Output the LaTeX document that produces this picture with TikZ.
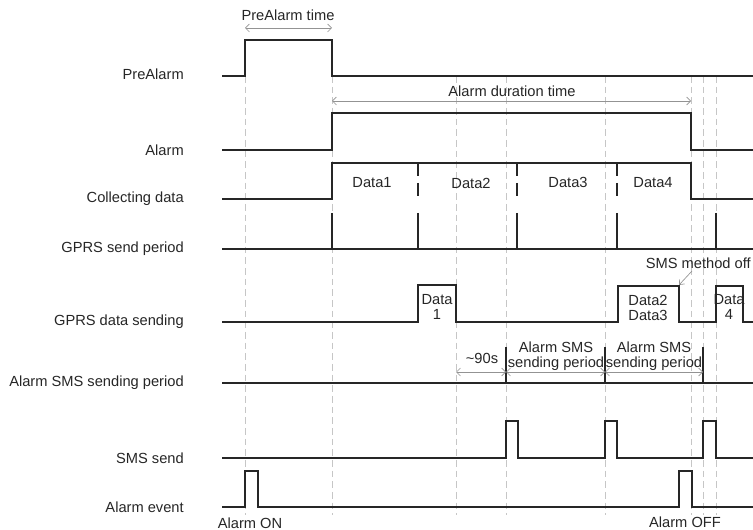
\documentclass[tikz,border=0pt]{standalone}
\usepackage{fontspec}
\setmainfont{Liberation Sans}
\usetikzlibrary{arrows.meta}
\begin{document}
\begin{tikzpicture}[x=0.75pt,y=-0.75pt,
  sig/.style={line width=1.3pt,black!85},
  sep/.style={line width=1.3pt,black!85,dash pattern=on 10pt off 5pt},
  grid/.style={gray!45,line width=0.5pt,dash pattern=on 5pt off 3pt},
  dim/.style={gray!85,line width=0.5pt,{Straight Barb[length=3pt,width=6pt]}-{Straight Barb[length=3pt,width=6pt]}},
  lbl/.style={anchor=east,inner sep=0pt,font=\fontsize{11}{11.5}\selectfont,text=black!85},
  txt/.style={inner sep=0pt,align=center,font=\fontsize{11}{11.5}\selectfont,text=black!85}]
\useasboundingbox (0,0) rectangle (753,530);

\draw[grid] (245,76) -- (245,515) (332,76) -- (332,515) (456,76) -- (456,515)
  (506,76) -- (506,515) (605,76) -- (605,515) (691,76) -- (691,515)
  (703,76) -- (703,515) (716,76) -- (716,515);

\node[lbl] (lpre) at (184,74) {PreAlarm};
\node[lbl] (lalarm) at (184,150) {Alarm};
\node[lbl] (lcoll) at (184,199) {Collecting data};
\node[lbl] (lgprsp) at (184,249) {GPRS send period};
\node[lbl] (lgprsd) at (184,322) {GPRS data sending};
\node[lbl] (lsmsp) at (184,383) {Alarm SMS sending period};
\node[lbl] (lsms) at (184,458) {SMS send};
\node[lbl] (levent) at (184,507) {Alarm event};

\draw[sig] (222,76) -- (245,76) -- (245,40) -- (332,40) -- (332,76) -- (753,76);
\draw[sig] (222,150) -- (332,150) -- (332,113) -- (691,113) -- (691,150) -- (753,150);
\draw[sig] (222,199) -- (332,199) -- (332,163) -- (691,163) -- (691,199) -- (753,199);
\draw[sep] (418,163) -- (418,199) (517,163) -- (517,199) (617,163) -- (617,199);
\draw[sig] (222,249) -- (753,249);
\draw[sig] (332,213) -- (332,249) (418,213) -- (418,249) (517,213) -- (517,249)
  (617,213) -- (617,249) (716,213) -- (716,249);
\draw[sig] (222,322) -- (418,322) -- (418,285) -- (456,285) -- (456,322) -- (618,322)
  -- (618,286) -- (679,286) -- (679,322) -- (716,322) -- (716,286) -- (743,286)
  -- (743,322) -- (753,322);
\draw[sig] (222,383) -- (753,383);
\draw[sig] (506,347) -- (506,383) (605,347) -- (605,383) (703,347) -- (703,383);
\draw[sig] (222,458) -- (506,458) -- (506,421) -- (518,421) -- (518,458) -- (605,458)
  -- (605,421) -- (617,421) -- (617,458) -- (703,458) -- (703,421) -- (716,421)
  -- (716,458) -- (753,458);
\draw[sig] (222,507) -- (245,507) -- (245,471) -- (258,471) -- (258,507) -- (679,507)
  -- (679,471) -- (692,471) -- (692,507) -- (753,507);

\coordinate (pa1) at (245,28);
\coordinate (pa2) at (332,28);
\draw[dim] (pa1) -- (pa2);
\node[txt] (tpre) at (288,15) {PreAlarm time};
\coordinate (ad1) at (332,101);
\coordinate (ad2) at (691,101);
\draw[dim] (ad1) -- (ad2);
\node[txt] (tdur) at (512,91) {Alarm duration time};
\coordinate (s0) at (456,372);
\coordinate (s1) at (506,372);
\coordinate (s2) at (605,372);
\coordinate (s3) at (703,372);
\draw[dim] (s0) -- (s1);
\draw[dim] (s1) -- (s2);
\draw[dim] (s2) -- (s3);
\node[txt] (t90) at (482,358) {\textasciitilde90s};
\node[txt] (tper1) at (556,356) {Alarm SMS\\sending period};
\node[txt] (tper2) at (654,356) {Alarm SMS\\sending period};

\node[txt] (d1) at (372,183) {Data1};
\node[txt] (d2) at (471,183) {Data2};
\node[txt] (d3) at (568,182) {Data3};
\node[txt] (d4) at (653,183) {Data4};
\node[txt] (g1) at (437,307) {Data\\1};
\node[txt] (g23) at (648,308) {Data2\\Data3};
\node[txt] (g4) at (729,307) {Data\\4};
\node[txt,anchor=east] (moff) at (751,263) {SMS method off};
\coordinate (mend) at (679,285);
\draw[gray!85,line width=0.5pt,-{Straight Barb[length=3pt,width=5pt]}] (692,271) -- (mend);

\node[txt] (aon) at (250,523) {Alarm ON};
\node[txt] (aoff) at (685,522) {Alarm OFF};
\end{tikzpicture}
\end{document}
